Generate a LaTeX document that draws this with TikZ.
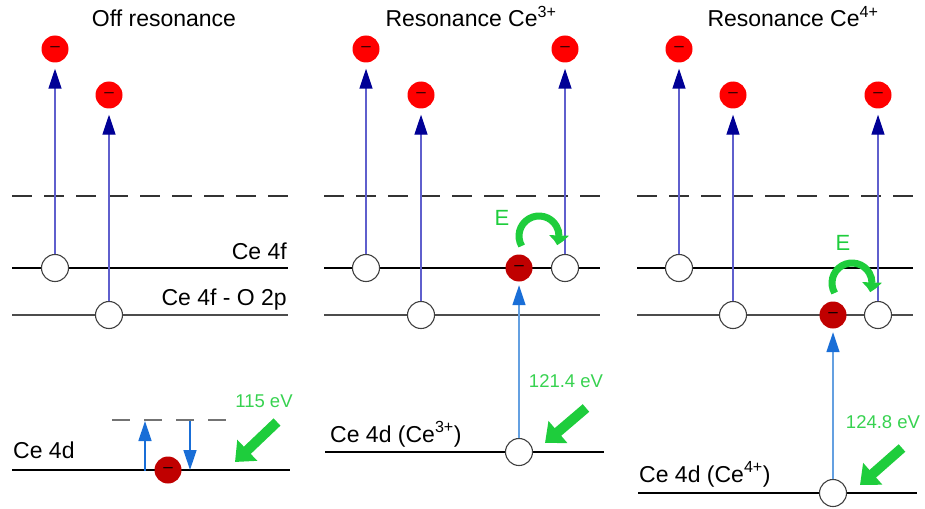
\documentclass[tikz,border=0pt]{standalone}
\usepackage{fontspec}
\setmainfont{Liberation Sans}
\usetikzlibrary{arrows.meta,bending,positioning}
\definecolor{elred}{RGB}{255,0,0}
\definecolor{exred}{RGB}{192,0,0}
\definecolor{navyhead}{RGB}{0,0,150}
\definecolor{navyline}{RGB}{95,95,205}
\definecolor{phblue}{RGB}{25,110,215}
\definecolor{phline}{RGB}{100,160,225}
\definecolor{photon}{RGB}{30,205,60}
\definecolor{photontxt}{RGB}{55,210,80}

\begin{document}
\begin{tikzpicture}[x=1pt,y=1pt,
  el/.style={circle,fill=elred,inner sep=0pt,minimum size=27pt,
    text=black!85!red,font=\fontsize{17}{17}\selectfont},
  ex/.style={el,fill=exred,text=black},
  hl/.style={circle,draw=black!75,line width=1.1pt,fill=white,inner sep=0pt,minimum size=27pt},
  lab/.style={font=\fontsize{23}{27}\selectfont,inner sep=0pt},
  ev/.style={font=\fontsize{18.5}{22}\selectfont,text=photontxt,inner sep=0pt},
  ee/.style={font=\fontsize{22}{26}\selectfont,text=photon,inner sep=0pt},
  up/.style={draw=navyline,line width=1.4pt,shorten >=6pt,
    -{Triangle[length=20pt,width=13pt,color=navyhead]}},
  ph/.style={draw=phline,line width=1.4pt,shorten >=3.5pt,
    -{Triangle[length=20pt,width=13pt,color=phblue]}},
  hv/.style={draw=photon,line width=10pt,-{Triangle[length=17pt,width=28pt]}},
  flip/.style={draw=photon,line width=7pt,-{Triangle[length=10pt,width=19pt,bend]}}]
  \useasboundingbox (0,0) rectangle (925,-508);
  % levels
  \foreach \x in {12,324,637} {
    \draw[black!80,line width=1.2pt,dash pattern=on 20pt off 12pt] (\x,-196) -- ++(276,0);
    \draw[line width=2.8pt] (\x,-268) -- ++(276,0);
    \draw[black!70,line width=1.3pt] (\x,-315) -- ++(276,0);
  }
  \draw[line width=2.8pt] (12,-470) -- (290,-470);
  \draw[line width=2.8pt] (325,-452) -- (604,-452);
  \draw[line width=2.8pt] (638,-493) -- (917,-493);
  \draw[black!55,line width=1.2pt,dash pattern=on 18pt off 14pt] (112,-420) -- (226,-420);

  % titles and labels
  \node[lab,anchor=base] (t1) at (164,-27) {Off resonance};
  \node[lab,anchor=base] (t2) at (471,-27) {Resonance Ce\textsuperscript{3+}};
  \node[lab,anchor=base] (t3) at (793,-27) {Resonance Ce\textsuperscript{4+}};
  \node[lab,anchor=base east] (l4f) at (287,-259) {Ce 4f};
  \node[lab,anchor=base east] (l2p) at (287,-305) {Ce 4f - O 2p};
  \node[lab,anchor=base west] (d1) at (13,-458) {Ce 4d};
  \node[lab,anchor=base west] (d2) at (330,-442) {Ce 4d (Ce\textsuperscript{3+})};
  \node[lab,anchor=base west] (d3) at (639,-482) {Ce 4d (Ce\textsuperscript{4+})};

  % off resonance
  \node[el] (a1) at (55,-49) {--};
  \node[el] (a2) at (109,-95) {--};
  \node[hl] (p1) at (55,-268) {};
  \node[hl] (p2) at (109,-315) {};
  \draw[up] (p1) -- (a1);
  \draw[up] (p2) -- (a2);
  \node[ex] (c1) at (168,-470) {--};
  \coordinate (u0) at (145,-471);
  \coordinate (u1) at (145,-421);
  \coordinate (w0) at (190,-421);
  \coordinate (w1) at (190,-470);
  \draw[ph,draw=phblue,shorten >=0pt] (u0) -- (u1);
  \draw[ph,draw=phblue,shorten >=0pt] (w0) -- (w1);
  \node[ev,anchor=base] (g1) at (264,-407) {115 eV};
  \coordinate (g1a) at (277,-422);
  \coordinate (g1b) at (235,-462);
  \draw[hv] (g1a) -- (g1b);

  % resonance Ce3+
  \node[el] (b1) at (366,-49) {--};
  \node[el] (b2) at (421,-95) {--};
  \node[el] (b3) at (565,-49) {--};
  \node[hl] (q1) at (366,-268) {};
  \node[hl] (q2) at (421,-315) {};
  \node[hl] (q3) at (565,-268) {};
  \node[ex] (x2) at (519,-268) {--};
  \node[hl] (c2) at (519,-452) {};
  \draw[up] (q1) -- (b1);
  \draw[up] (q2) -- (b2);
  \draw[up] (q3) -- (b3);
  \draw[ph] (c2) -- (x2);
  \draw[flip] (x2) ++(20,32) ++(210:20) arc (210:-27:20);
  \node[ee,anchor=base] (e2) at (502,-225) {E};
  \node[ev,anchor=base] (g2) at (566,-387) {121.4 eV};
  \coordinate (g2a) at (586,-408);
  \coordinate (g2b) at (545,-443);
  \draw[hv] (g2a) -- (g2b);

  % resonance Ce4+
  \node[el] (f1) at (679,-49) {--};
  \node[el] (f2) at (733,-95) {--};
  \node[el] (f3) at (878,-95) {--};
  \node[hl] (r1) at (679,-268) {};
  \node[hl] (r2) at (733,-315) {};
  \node[hl] (r3) at (878,-315) {};
  \node[ex] (x3) at (833,-315) {--};
  \node[hl] (c3) at (833,-493) {};
  \draw[up] (r1) -- (f1);
  \draw[up] (r2) -- (f2);
  \draw[up] (r3) -- (f3);
  \draw[ph] (c3) -- (x3);
  \draw[flip] (x3) ++(19,32) ++(210:20) arc (210:-27:20);
  \node[ee,anchor=base] (e3) at (843,-250) {E};
  \node[ev,anchor=base] (g3) at (883,-428) {124.8 eV};
  \coordinate (g3a) at (902,-448);
  \coordinate (g3b) at (860,-485);
  \draw[hv] (g3a) -- (g3b);
\end{tikzpicture}
\end{document}
